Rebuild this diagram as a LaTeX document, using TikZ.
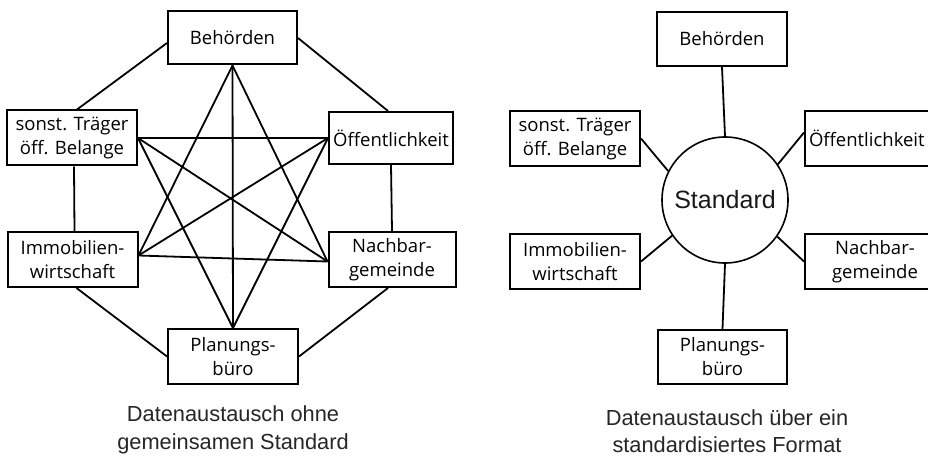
\documentclass[tikz,border=0pt]{standalone}
\usepackage{fontspec}
\setmainfont{Open Sans}
\newfontfamily\capfont{Liberation Sans}
\begin{document}
\begin{tikzpicture}[x=1pt,y=-1pt,
  box/.style={draw=black, line width=2pt, rectangle, inner sep=0pt, align=center,
    font=\fontsize{18.5}{24}\selectfont, text=black},
  conn/.style={line width=1.8pt, black},
  caption/.style={font=\capfont\fontsize{21.8}{27.5}\selectfont, align=center, text=black!85},
  stdcircle/.style={draw=black, line width=1.6pt, circle, minimum size=126pt, inner sep=0pt,
    font=\capfont\fontsize{25}{28}\selectfont, text=black!90}]
\useasboundingbox (0,0) rectangle (928,457);
\clip (0,0) rectangle (928,457);
\fill[white] (0,0) rectangle (928,457);
% ---------- left diagram ----------
\node[box, minimum width=129pt, minimum height=53pt] (B1) at (232.5,38) {Behörden};
\node[box, minimum width=130pt, minimum height=55pt] (S1) at (72,138) {sonst. Träger\\öff. Belange};
\node[box, minimum width=124pt, minimum height=52pt] (O1) at (391,138) {Öffentlichkeit};
\node[box, minimum width=130pt, minimum height=55pt] (I1) at (72.5,259.5) {Immobilien-\\wirtschaft};
\node[box, minimum width=127pt, minimum height=55pt] (N1) at (392,259.5) {Nachbar-\\gemeinde};
\node[box, minimum width=130pt, minimum height=55pt] (P1) at (233,356.5) {Planungs-\\büro};
% outer ring
\draw[conn] ([yshift=-5pt]B1.west) -- ([xshift=5pt]S1.north);
\draw[conn] (B1.east) -- ([xshift=-3pt]O1.north);
\draw[conn] ([xshift=2pt]S1.south) -- ([xshift=2pt]I1.north);
\draw[conn] (O1.south) -- (N1.north);
\draw[conn] ([xshift=4pt]I1.south) -- (P1.west);
\draw[conn] ([xshift=-4pt]N1.south) -- (P1.east);
% inner star
\draw[conn] (B1.south) -- (P1.north);
\draw[conn] (B1.south) -- ([yshift=4pt]I1.east);
\draw[conn] (B1.south) -- ([yshift=-2pt]N1.west);
\draw[conn] (S1.east) -- (O1.west);
\draw[conn] (S1.east) -- (P1.north);
\draw[conn] (S1.east) -- ([yshift=-2pt]N1.west);
\draw[conn] (O1.west) -- ([yshift=4pt]I1.east);
\draw[conn] (O1.west) -- (P1.north);
\draw[conn] ([yshift=4pt]I1.east) -- ([yshift=-2pt]N1.west);
\node[caption] (L1) at (233,430) {Datenaustausch ohne\\gemeinsamen Standard};
% ---------- right diagram ----------
\node[stdcircle] (C) at (725,200) {Standard};
\node[box, minimum width=130pt, minimum height=54pt] (B2) at (722,39) {Behörden};
\node[box, minimum width=130pt, minimum height=55pt] (S2) at (575,138.5) {sonst. Träger\\öff. Belange};
\node[box, minimum height=55pt, anchor=west, text width=132pt, inner xsep=4pt, align=left] (O2) at (804,138.5) {Öffentlichkeit};
\node[box, minimum width=140pt, minimum height=55pt, anchor=west] (N2) at (804,261.5) {Nachbar-\\gemeinde};
\node[box, minimum width=130pt, minimum height=55pt] (I2) at (575,261.5) {Immobilien-\\wirtschaft};
\node[box, minimum width=129pt, minimum height=54pt] (P2) at (722.5,357) {Planungs-\\büro};
\draw[conn] (B2.south) -- (C.north);
\draw[conn] (S2.east) -- (C.153);
\draw[conn] ([yshift=6pt]O2.west) -- (C.34);
\draw[conn] (I2.east) -- (C.214);
\draw[conn] (N2.west) -- (C.325);
\draw[conn] (P2.north) -- (C.south);
\node[caption] (L2) at (727,431) {Datenaustausch über ein\\standardisiertes Format};
\end{tikzpicture}
\end{document}
